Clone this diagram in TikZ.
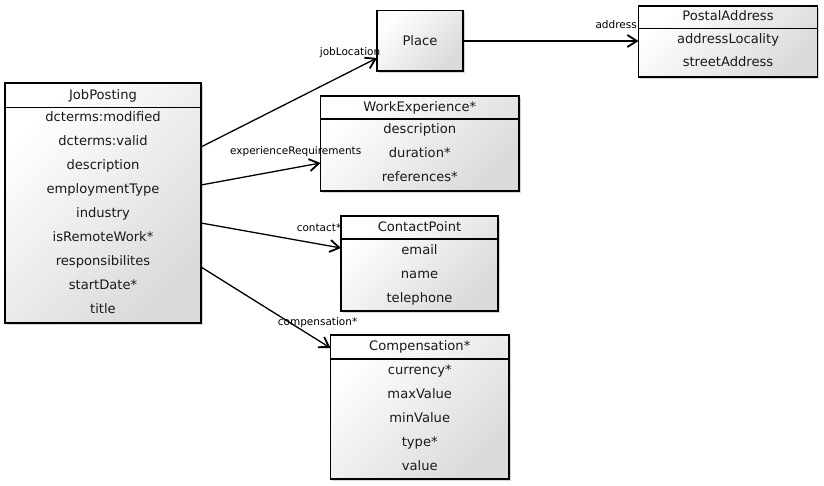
\documentclass[tikz,border=0pt]{standalone}
\usepackage{fontspec}
\setmainfont{DejaVu Sans}
\usetikzlibrary{arrows.meta,shadows,calc}
\definecolor{boxgray}{HTML}{DADADA}
\begin{document}
\begin{tikzpicture}[x=1pt,y=-1pt,
  umlbox/.style={draw=black, line width=1.2pt, top color=white, bottom color=boxgray, shading angle=45,
    anchor=north west, inner sep=0pt, outer sep=0pt,
    drop shadow={shadow xshift=1.5pt, shadow yshift=-1.5pt, fill=black!35, opacity=0.45}},
  attr/.style={font=\fontsize{13.1}{15}\selectfont, text=black!90, inner sep=0pt, text height=9.3pt, text depth=2.6pt, yshift=-1.4pt},
  lbl/.style={font=\fontsize{10.5}{12}\selectfont, inner sep=0pt, anchor=east, text height=7.6pt, text depth=2pt},
  hline/.style={line width=1.2pt},
  assoc/.style={line width=1.3pt, -{Straight Barb[length=9.5pt,width=12pt,line width=1.8pt]}}
]
\useasboundingbox (0,0) rectangle (824,485);

% JobPosting
\node[umlbox, minimum width=196pt, minimum height=240pt] (jp) at (5,83) {};
\draw[hline] ($(jp.north west)+(0,24.5)$) -- ($(jp.north east)+(0,24.5)$);
\node[attr] (jpt) at ($(jp.north)+(0,11.5)$) {JobPosting};
\foreach \t [count=\i] in {dcterms:modified,dcterms:valid,description,employmentType,industry,isRemoteWork*,responsibilites,startDate*,title}
  \node[attr] (jpa\i) at ($(jp.north)+(0,10+24*\i)$) {\t};

% Place
\node[umlbox, minimum width=86pt, minimum height=60.5pt] (pl) at (377,10.5) {};
\node[attr] (plt) at ($(pl.center)$) {Place};

% PostalAddress
\node[umlbox, minimum width=179pt, minimum height=71pt] (pa) at (638.5,6) {};
\draw[hline] ($(pa.north west)+(0,22.5)$) -- ($(pa.north east)+(0,22.5)$);
\node[attr] (pat) at ($(pa.north)+(0,9.5)$) {PostalAddress};
\node[attr] (pa1) at ($(pa.north)+(0,33)$) {addressLocality};
\node[attr] (pa2) at ($(pa.north)+(0,56)$) {streetAddress};

% WorkExperience
\node[umlbox, minimum width=198.5pt, minimum height=95pt] (we) at (320.5,96) {};
\draw[hline] ($(we.north west)+(0,23)$) -- ($(we.north east)+(0,23)$);
\node[attr] (wet) at ($(we.north)+(0,10.5)$) {WorkExperience*};
\foreach \t [count=\i] in {description,duration*,references*}
  \node[attr] (wea\i) at ($(we.north)+(0,9+24*\i)$) {\t};

% ContactPoint
\node[umlbox, minimum width=157pt, minimum height=95pt] (cp) at (341,216) {};
\draw[hline] ($(cp.north west)+(0,23)$) -- ($(cp.north east)+(0,23)$);
\node[attr] (cpt) at ($(cp.north)+(0,10.5)$) {ContactPoint};
\foreach \t [count=\i] in {email,name,telephone}
  \node[attr] (cpa\i) at ($(cp.north)+(0,9.5+24*\i)$) {\t};

% Compensation
\node[umlbox, minimum width=178.5pt, minimum height=144pt] (co) at (330.5,335) {};
\draw[hline] ($(co.north west)+(0,24)$) -- ($(co.north east)+(0,24)$);
\node[attr] (cot) at ($(co.north)+(0,11)$) {Compensation*};
\foreach \t [count=\i] in {currency*,maxValue,minValue,type*,value}
  \node[attr] (coa\i) at ($(co.north)+(0,10.5+24*\i)$) {\t};

% connectors
\draw[assoc] ($(jp.north east)+(0,64)$) -- ($(pl.south west)+(0,-13)$);
\draw[assoc] ($(jp.north east)+(0,102)$) -- ($(we.north west)+(0,67)$);
\draw[assoc] ($(jp.north east)+(0,140)$) -- ($(cp.north west)+(0,32)$);
\draw[assoc] ($(jp.north east)+(0,184)$) -- ($(co.north west)+(0,13)$);
\draw[assoc] ($(pl.north east)+(0,30.5)$) -- ($(pa.north west)+(0,35)$);

% labels
\node[lbl] (l1) at (380.5,52.5) {jobLocation};
\node[lbl] (l2) at (361.5,152) {experienceRequirements};
\node[lbl] (l3) at (341.5,229) {contact*};
\node[lbl] (l4) at (357.5,323) {compensation*};
\node[lbl] (l5) at (637,25.5) {address};
\end{tikzpicture}
\end{document}
